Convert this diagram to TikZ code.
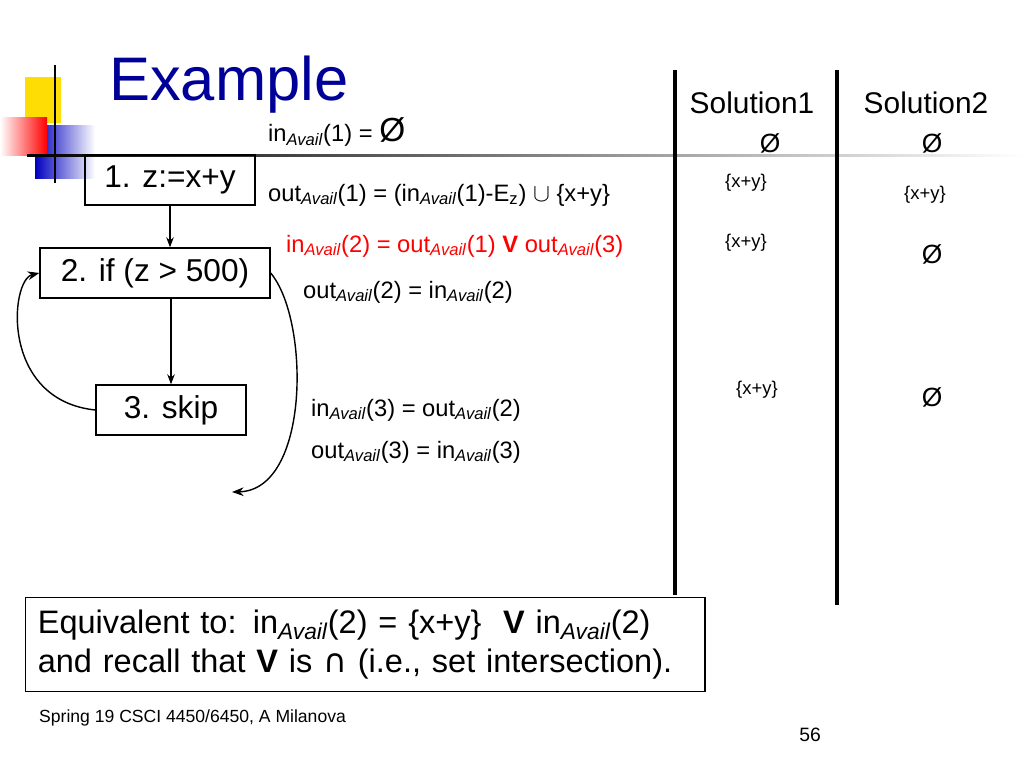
\documentclass[tikz,border=0pt]{standalone}
\usepackage{fontspec}
\setmainfont{Liberation Sans}
\newfontfamily\symfont{DejaVu Sans}
\usepackage{tikz}
\usetikzlibrary{calc}
\usetikzlibrary{arrows.meta}
\newcommand{\inA}{in\textsubscript{\itshape Avail}}
\newcommand{\outA}{out\textsubscript{\itshape Avail}}
\begin{document}
\begin{tikzpicture}[x=0.02cm,y=-0.02cm]
    \tikzstyle{block}=[draw,thick,minimum height=1cm,font=\fontsize{18}{20}\selectfont,inner sep=4pt]
    \tikzstyle{flow}=[-Stealth,semithick]
    \tikzstyle{loop}=[-Stealth,thick]
    \tikzstyle{eqn}=[anchor=west,font=\fontsize{13.5}{16}\selectfont]
    \tikzstyle{sol}=[font=\fontsize{10.5}{12}\selectfont]
    \tikzstyle{empty}=[font=\fontsize{15}{17}\selectfont]
    \tikzstyle{divider}=[line width=2.5pt]
    \useasboundingbox (0,0) rectangle (1024,768);
    % Decoration
    \fill[yellow!80!orange] (25,77) rectangle (61,123);
    \shade[left color=blue!75!black, right color=white] (35,125) rectangle (95,178);
    \shade[left color=white, right color=red] (0,117) rectangle (47,155);
    \draw[semithick] (55,65) -- (55,183);
    \shade[left color=black, right color=white] (27,154) rectangle (1024,156.5);
    \node[anchor=base west,text=blue!60!black,font=\fontsize{35}{38}\selectfont] (title) at (103,100) {Example};
    % Flow graph
    \node[block,minimum width=3.4cm] (b1) at (170,180) {1. z:=x+y};
    \node[block,minimum width=4.6cm] (b2) at (155,273) {2. if (z > 500)};
    \node[block,minimum width=3cm] (b3) at (171,410) {3. skip};
    \draw[flow] (b1.south) -- (b1.south |- b2.north);
    \draw[flow] (b2.south -| b3.north) -- (b3.north);
    \draw[loop] (b3.west) .. controls (0,400) and (10,280) .. (b2.west);
    \coordinate (loopend) at (232,492);
    \draw[loop] (b2.east) .. controls (310,320) and (310,490) .. (loopend);
    % Equations
    \node[eqn] (e1) at (262,132) {\inA(1) = {\fontsize{19}{20}\selectfont Ø}};
    \node[eqn] (e2) at (262,195) {\outA(1) = (\inA(1)-E\textsubscript{z}) $\cup$ \{x+y\}};
    \node[eqn,text=red] (e3) at (280,246) {\inA(2) = \outA(1) \textbf{V} \outA(3)};
    \node[eqn] (e4) at (297,292) {\outA(2) = \inA(2)};
    \node[eqn] (e5) at (305,410) {\inA(3) = \outA(2)};
    \node[eqn] (e6) at (305,452) {\outA(3) = \inA(3)};
    % Solutions
    \draw[divider] (675,70) -- (675,595);
    \draw[divider] (837,70) -- (837,605);
    \node[font=\fontsize{17}{19}\selectfont] (s1) at (752,103) {Solution1};
    \node[font=\fontsize{17}{19}\selectfont] (s2) at (926,103) {Solution2};
    \node[empty] (a1) at (770,143) {Ø};
    \node[empty] (a2) at (932,143) {Ø};
    \node[sol] (a3) at (746,183) {\{x+y\}};
    \node[sol] (a4) at (925,195) {\{x+y\}};
    \node[sol] (a5) at (746,243) {\{x+y\}};
    \node[empty] (a6) at (932,254) {Ø};
    \node[sol] (a7) at (757,390) {\{x+y\}};
    \node[empty] (a8) at (932,397) {Ø};
    % Summary
    \node[draw,semithick,anchor=north west,align=left,text width=13.1cm,inner sep=7pt,font=\fontsize{18.5}{22}\selectfont] (note) at (25,597)
        {Equivalent to: \inA(2) = \{x+y\}\ \ \textbf{V} \inA(2)\\and recall that \textbf{V} is {\symfont ∩} (i.e., set intersection).};
    \node[anchor=west,font=\fontsize{10}{12}\selectfont] (foot) at (33,718) {Spring 19 CSCI 4450/6450, A Milanova};
    \node[font=\fontsize{11}{13}\selectfont] (page) at (810,735) {56};
\end{tikzpicture}
\end{document}
